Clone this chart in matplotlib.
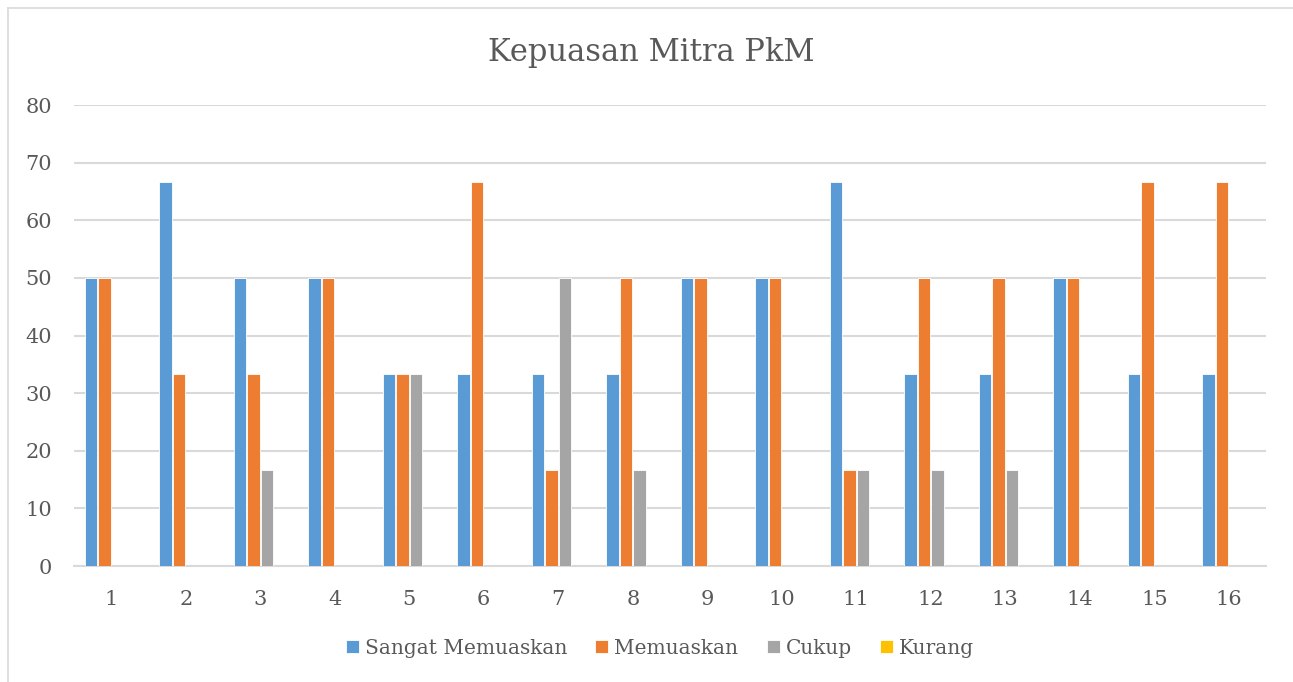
import matplotlib
matplotlib.use("Agg")
import matplotlib.pyplot as plt
import numpy as np
from matplotlib.lines import Line2D

categories = [str(i) for i in range(1, 17)]
sangat_memuaskan = [50, 66.7, 50, 50, 33.3, 33.3, 33.3, 33.3, 50, 50, 66.7, 33.3, 33.3, 50, 33.3, 33.3]
memuaskan = [50, 33.3, 33.3, 50, 33.3, 66.7, 16.7, 50, 50, 50, 16.7, 50, 50, 50, 66.7, 66.7]
cukup = [0, 0, 16.7, 0, 33.3, 0, 50, 16.7, 0, 0, 16.7, 16.7, 16.7, 0, 0, 0]
kurang = [0] * 16
series_names = ["Sangat Memuaskan", "Memuaskan", "Cukup", "Kurang"]
colors = ["#5B9BD5", "#ED7D31", "#A5A5A5", "#FFC000"]
yticks = [0, 10, 20, 30, 40, 50, 60, 70, 80]

plt.rcParams['font.family'] = ['DejaVu Serif']
txt = "#595959"

W, H = 1293, 682
fig = plt.figure(figsize=(W / 100, H / 100), dpi=100)
ax = fig.add_axes([74 / W, 1 - 566 / H, (1266 - 74) / W, (566 - 105) / H])

# chart-area border (top and left visible in reference)
fig.add_artist(Line2D([8 / W, 1.0], [1 - 8 / H, 1 - 8 / H], transform=fig.transFigure,
                      color="#D9D9D9", linewidth=1.2))
fig.add_artist(Line2D([8 / W, 8 / W], [0, 1 - 8 / H], transform=fig.transFigure,
                      color="#D9D9D9", linewidth=1.2))

x = np.arange(len(categories))
pitch = 0.181
width = 0.165
data = [sangat_memuaskan, memuaskan, cukup, kurang]
for i, (vals, name, c) in enumerate(zip(data, series_names, colors)):
    ax.bar(x + (i - 1.5) * pitch, vals, width=width, color=c, label=name,
           edgecolor="white", linewidth=0.6, zorder=3)

ax.set_xlim(-0.5, len(categories) - 0.5)
ax.set_ylim(0, 80)
ax.set_yticks(yticks)
ax.set_xticks(x)
ax.set_xticklabels(categories)
ax.yaxis.grid(True, color="#D9D9D9", linewidth=1.5, zorder=0)
ax.set_axisbelow(True)
for s in ["top", "right", "left"]:
    ax.spines[s].set_visible(False)
ax.spines["bottom"].set_color("#D9D9D9")
ax.spines["bottom"].set_linewidth(1.5)
ax.tick_params(axis="both", length=0, labelsize=15, colors=txt)
ax.tick_params(axis="x", pad=17)
ax.tick_params(axis="y", pad=16)

fig.text(651 / W, 1 - 53 / H, "Kepuasan Mitra PkM", ha="center", va="center", fontsize=22, color=txt)

leg = fig.legend(loc="center", bbox_to_anchor=(660 / W, 1 - 648 / H), ncol=4, frameon=False,
                 fontsize=14.5, handlelength=0.65, handleheight=0.65, handletextpad=0.3,
                 columnspacing=1.4, labelcolor=txt)

fig.savefig("out.png", dpi=100)
